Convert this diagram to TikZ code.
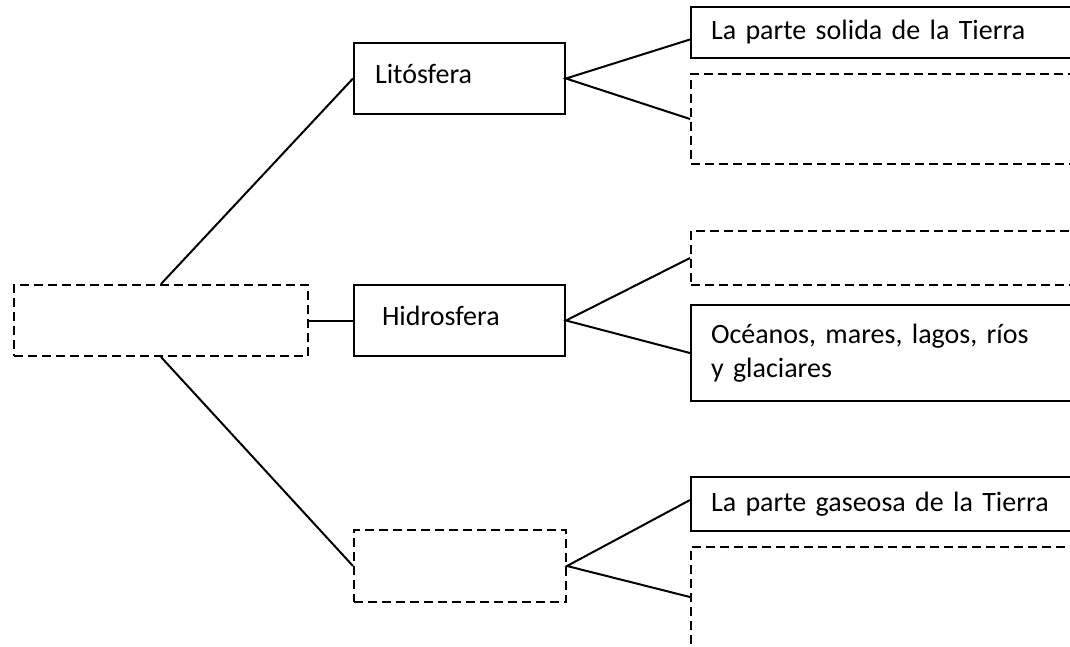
\documentclass[tikz,border=0pt]{standalone}
\usepackage{fontspec}
\setmainfont{Carlito}
\usetikzlibrary{calc}
\begin{document}
\begin{tikzpicture}[x=0.75pt,y=-0.75pt,
    caja/.style={draw,line width=1.5pt,rectangle,inner ysep=0pt,
      font=\fontsize{21}{25.5}\selectfont,align=left},
    rayada/.style={caja,dash pattern=on 6.75pt off 3.75pt},
    derecha/.style={anchor=west,minimum width=300pt,text width=270pt,inner xsep=15pt}]
    \useasboundingbox (0,0) rectangle (1070,646);

    % 绘制中心框
    \node[rayada,minimum width=220.5pt,minimum height=53.25pt] (tierra) at (161,320.5) {};

    % 绘制三个分支
    \node[caja,minimum width=158.25pt,minimum height=53.25pt,text width=126.75pt,inner xsep=15.75pt,text depth=7pt] (lito) at (459.5,78.5) {Litósfera};
    \node[caja,minimum width=158.25pt,minimum height=53.25pt,text width=116.25pt,inner xsep=21pt,text depth=7pt] (hidro) at (459.5,320.5) {Hidrosfera};
    \node[rayada,minimum width=159pt,minimum height=54pt] (atmos) at (460,566) {};

    % 绘制右侧的框
    \node[caja,derecha,minimum height=38.25pt] (solida) at (690,32.5) {La parte solida de la Tierra};
    \node[rayada,derecha,minimum height=67.5pt] (vacioA) at (690,119) {};
    \node[rayada,derecha,minimum height=40.5pt] (vacioB) at (690,258) {};
    \node[caja,derecha,minimum height=72pt] (oceanos) at (690,353) {Océanos, mares, lagos, ríos\\y glaciares};
    \node[caja,derecha,minimum height=40.5pt] (gaseosa) at (690,504) {La parte gaseosa de la Tierra};
    \node[rayada,derecha,anchor=north west,minimum height=90pt] (vacioC) at (690,546) {};

    % 绘制连接线
    \draw[line width=1.5pt] (tierra.north) -- (lito.west);
    \draw[line width=1.5pt] (tierra.east) -- (hidro.west);
    \draw[line width=1.5pt] (tierra.south) -- (atmos.west);
    \draw[line width=1.5pt] ($(solida.west)+(0,7)$) -- (lito.east) -- (vacioA.west);
    \draw[line width=1.5pt] (vacioB.west) -- (hidro.east) -- (oceanos.west);
    \draw[line width=1.5pt] ($(gaseosa.west)+(0,-4)$) -- (atmos.east) -- ($(vacioC.north west)+(0,51)$);

\end{tikzpicture}
\end{document}
